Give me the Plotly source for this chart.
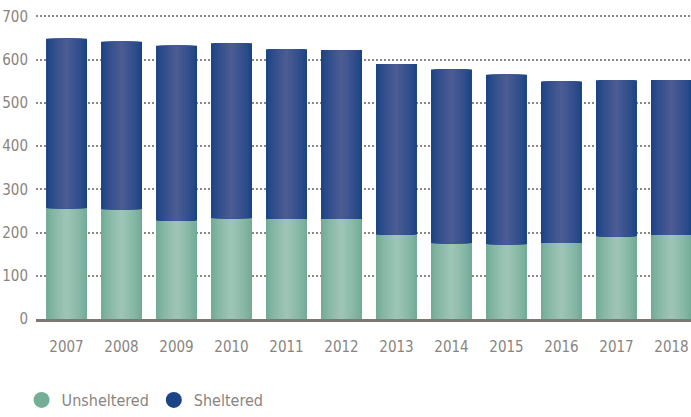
import plotly.graph_objects as go

# Homeless counts (thousands) by year
years = ["2007", "2008", "2009", "2010", "2011", "2012",
         "2013", "2014", "2015", "2016", "2017", "2018"]
unsheltered = [256, 254, 227, 233, 231, 231, 195, 175, 173, 176, 191, 194]
sheltered = [392, 387, 405, 405, 393, 391, 395, 402, 392, 373, 361, 359]

BAR_W = 0.745
LAYERS = 12
TEXT_GRAY = "#8a8480"
FONT = "DejaVu Sans Condensed, sans-serif"


def mix(c1, c2, t):
    a = [int(c1[i:i + 2], 16) for i in (1, 3, 5)]
    b = [int(c2[i:i + 2], 16) for i in (1, 3, 5)]
    return "rgb({},{},{})".format(*[round(a[i] + (b[i] - a[i]) * t) for i in range(3)])


def shaded_stack(values, base, edge, center, name):
    """Nested bars, each narrower and lighter, to fake a cylinder-like sheen."""
    traces = []
    for k in range(LAYERS):
        t = k / (LAYERS - 1)
        w = BAR_W * (1 - k / LAYERS)
        traces.append(go.Bar(
            x=years, y=values, base=base, width=w,
            marker=dict(color=mix(edge, center, t ** 0.8), line=dict(width=0)),
            name=name, legendgroup=name, showlegend=False,
            hovertemplate="%{x}: %{y}<extra>" + name + "</extra>",
        ))
    return traces


fig = go.Figure()
for tr in shaded_stack(unsheltered, None, "#72ab96", "#9dc5b6", "Unsheltered"):
    fig.add_trace(tr)
for tr in shaded_stack(sheltered, unsheltered, "#1b4485", "#4b5b94", "Sheltered"):
    fig.add_trace(tr)

# Legend entries with round markers
for name, col in [("Unsheltered", "#74ad98"), ("Sheltered", "#1c4586")]:
    fig.add_trace(go.Scatter(
        x=[None], y=[None], mode="markers", name=name, legendgroup=name,
        marker=dict(symbol="circle", size=20, color=col),
    ))

fig.update_layout(
    width=691, height=417,
    margin=dict(l=36, r=0, t=12, b=95),
    barmode="overlay",
    plot_bgcolor="white", paper_bgcolor="white",
    font=dict(family=FONT, color=TEXT_GRAY, size=16),
    showlegend=True,
    legend=dict(
        orientation="h", x=-0.022, xanchor="left", y=-0.265, yanchor="middle",
        font=dict(size=16, color=TEXT_GRAY), itemwidth=30,
        traceorder="normal", bgcolor="rgba(0,0,0,0)",
    ),
    xaxis=dict(
        type="category", range=[-0.555, 11.355],
        showgrid=False, showline=True, linecolor="#7d7673", linewidth=3,
        ticks="", ticklabelstandoff=12, tickfont=dict(size=15, color=TEXT_GRAY),
    ),
    yaxis=dict(
        range=[0, 710], tickvals=[0, 100, 200, 300, 400, 500, 600, 700],
        showgrid=True, gridcolor="#8d8784", gridwidth=1.5, griddash="2px,2px",
        zeroline=False, showline=False, ticks="",
        ticklabelstandoff=7, tickfont=dict(size=15, color=TEXT_GRAY),
    ),
)

fig.write_html("out.html")
